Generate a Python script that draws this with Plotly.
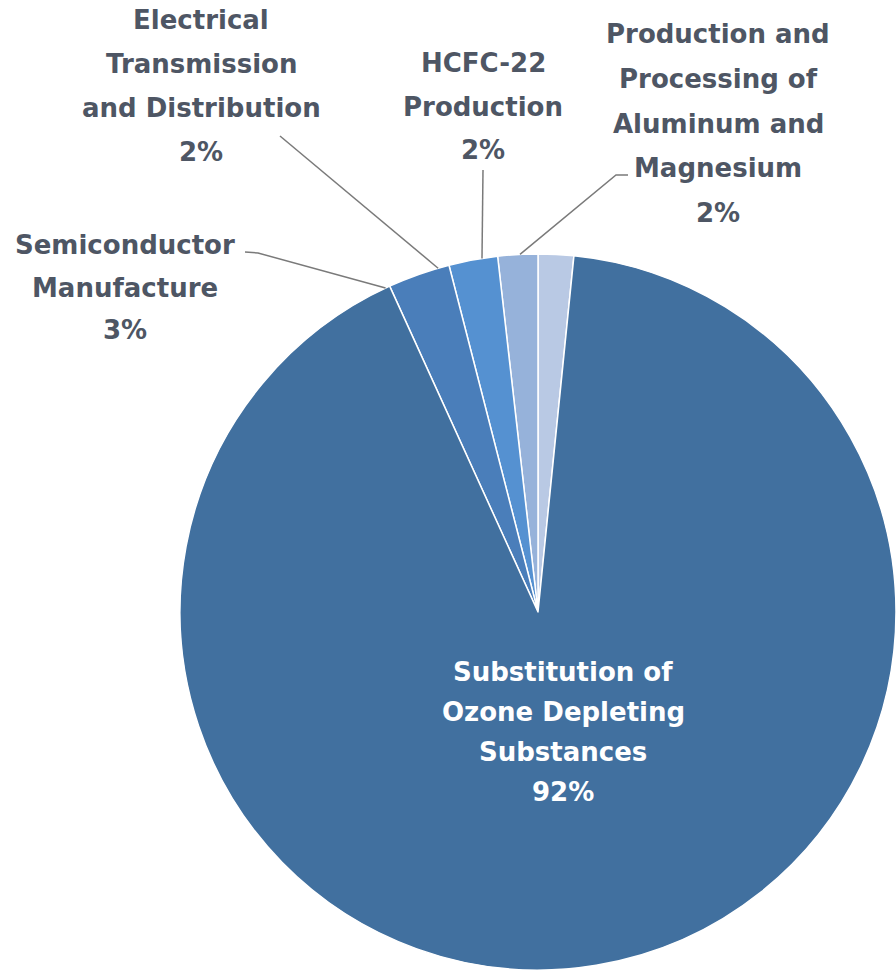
import math
import plotly.graph_objects as go

# ---- data ----
categories = [
    "Production and<br>Processing of<br>Aluminum and<br>Magnesium",
    "HCFC-22<br>Production",
    "Electrical<br>Transmission<br>and Distribution",
    "Semiconductor<br>Manufacture",
    "Substitution of<br>Ozone Depleting<br>Substances",
]
values = [1.6, 1.8, 2.2, 2.8, 91.6]
colors = ["#B9C9E4", "#96B2DA", "#5591D1", "#4A7EBA", "#41709F"]

W, H = 896, 974
CX, CY, R = 538, 612, 358  # pie placement in pixels

def px(x):
    return x / W

def py(y):
    return 1 - y / H

fig = go.Figure(go.Pie(
    labels=[c.replace("<br>", " ") for c in categories],
    values=values,
    sort=False,
    direction="counterclockwise",
    rotation=0,
    marker=dict(colors=colors, line=dict(color="white", width=1.5)),
    textinfo="none",
    hoverinfo="label+percent",
    domain=dict(x=[px(CX - R), px(CX + R)], y=[py(CY + R), py(CY - R)]),
    showlegend=False,
))

total = sum(values)
pcts = [f"{round(v / total * 100):d}%" for v in values]

# label layout: (center x, first line y, line spacing, color)
label_pos = [
    (718, 34, 44.8, "#4E5664"),
    (483, 63, 43.5, "#4E5664"),
    (201, 20, 44.0, "#4E5664"),
    (125, 245, 42.5, "#4E5664"),
    (563, 672, 40.0, "white"),
]
# leader line start points (near label) and optional elbow
leader_start = [
    [(628, 175), (616, 175)],
    [(483, 170)],
    [(280, 136)],
    [(245, 252), (258, 253)],
    None,
]

annotations = []
shapes = []
cum = 0.0
for i, (cat, v) in enumerate(zip(categories, values)):
    frac_mid = (cum + v / 2) / total
    cum += v
    th = 2 * math.pi * frac_mid
    tipx = CX - R * math.sin(th)
    tipy = CY - R * math.cos(th)
    lines = cat.split("<br>") + [pcts[i]]
    x0, y0, dy, col = label_pos[i]
    for k, ln in enumerate(lines):
        annotations.append(dict(
            x=px(x0), y=py(y0 + k * dy), xref="paper", yref="paper",
            text=ln, showarrow=False, xanchor="center", yanchor="middle",
            font=dict(family="DejaVu Sans", size=26, color=col, weight="bold"),
        ))
    if leader_start[i]:
        pts = leader_start[i] + [(tipx, tipy)]
        path = "M " + " L ".join(f"{px(a)},{py(b)}" for a, b in pts)
        shapes.append(dict(type="path", xref="paper", yref="paper", path=path,
                           line=dict(color="#7A7A7A", width=1.5)))

fig.update_layout(
    width=W, height=H,
    margin=dict(l=0, r=0, t=0, b=0),
    paper_bgcolor="white",
    plot_bgcolor="white",
    annotations=annotations,
    shapes=shapes,
)

fig.write_html(
    "out.html",
    config={"displayModeBar": False},
    post_script="document.body.style.margin='0';document.body.style.overflow='hidden';",
)
